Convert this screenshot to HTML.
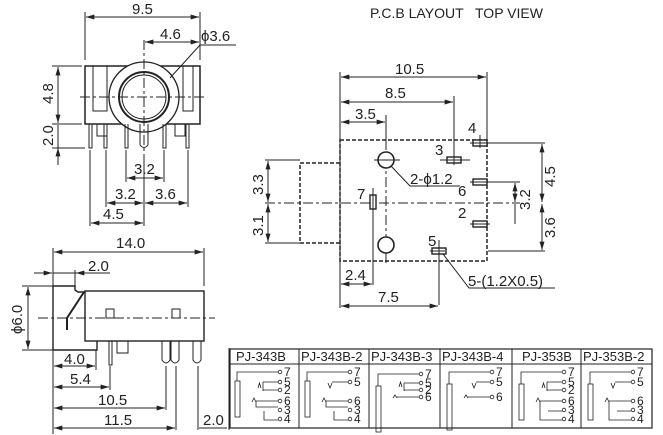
<!DOCTYPE html>
<html><head><meta charset="utf-8"><style>
html,body{margin:0;padding:0;background:#fff}
svg{display:block}
text{font-family:"Liberation Sans",sans-serif;fill:#222}
</style></head><body>
<svg width="663" height="435" viewBox="0 0 663 435" xmlns="http://www.w3.org/2000/svg">
<defs>
<marker id="a" viewBox="0 0 10 6" refX="10" refY="3" markerWidth="10" markerHeight="5" orient="auto-start-reverse" markerUnits="userSpaceOnUse"><path d="M0,0L10,3L0,6z" fill="#222"/></marker>
</defs>
<g stroke="#222" stroke-width="1" fill="none">
<rect x="85" y="66" width="115" height="58" stroke-width="1.5"/>
<rect x="93" y="66" width="14" height="45"/>
<rect x="183" y="66" width="10" height="45"/>
<circle cx="144" cy="97" r="35" stroke-width="1.3" fill="#fff"/>
<circle cx="144" cy="97" r="25" stroke-width="2"/>
<circle cx="144" cy="97" r="22"/>
<line x1="80" y1="97" x2="207" y2="97" stroke-dasharray="10,3,3,3"/>
<line x1="144" y1="40" x2="144" y2="160" stroke-dasharray="10,3,3,3"/>
<path d="M89 124V148h3V124M104 124V148h3V124M125 124V148h3V124M163 124V148h3V124M186 124V148h3V124"/>
<rect x="97" y="124" width="10" height="12"/><rect x="175" y="124" width="10" height="12"/>
<path d="M140 124V145q4 5 8 0V124"/>
<line x1="85" y1="60" x2="85" y2="12"/><line x1="200" y1="60" x2="200" y2="12"/>
<line x1="86" y1="17" x2="199" y2="17" marker-start="url(#a)" marker-end="url(#a)"/>
<line x1="145" y1="42" x2="199" y2="42" marker-start="url(#a)" marker-end="url(#a)"/>
<line x1="170" y1="78" x2="200" y2="45"/><line x1="200" y1="45" x2="236" y2="45"/>
<line x1="52" y1="66" x2="82" y2="66"/><line x1="52" y1="124" x2="82" y2="124"/><line x1="52" y1="148" x2="85" y2="148"/>
<line x1="58" y1="67" x2="58" y2="123" marker-start="url(#a)" marker-end="url(#a)"/>
<line x1="58" y1="125" x2="58" y2="165"/>
<line x1="58" y1="148" x2="58" y2="165" marker-start="url(#a)"/>
<line x1="90" y1="150" x2="90" y2="226"/><line x1="106" y1="150" x2="106" y2="207"/>
<line x1="126" y1="150" x2="126" y2="182"/><line x1="144" y1="160" x2="144" y2="226"/>
<line x1="164" y1="150" x2="164" y2="182"/><line x1="188" y1="150" x2="188" y2="207"/>
<line x1="127" y1="178" x2="163" y2="178" marker-start="url(#a)" marker-end="url(#a)"/>
<line x1="107" y1="203" x2="143" y2="203" marker-start="url(#a)" marker-end="url(#a)"/>
<line x1="145" y1="203" x2="187" y2="203" marker-start="url(#a)" marker-end="url(#a)"/>
<line x1="91" y1="223" x2="143" y2="223" marker-start="url(#a)" marker-end="url(#a)"/>
<g stroke-dasharray="4,2" stroke-width="1.5">
<rect x="340" y="140" width="147" height="121"/>
<path d="M340 163H300V243H340"/>
</g>
<line x1="265" y1="203" x2="520" y2="203" stroke-dasharray="10,3,3,3"/>
<line x1="386" y1="120" x2="386" y2="265" stroke-dasharray="10,3,3,3"/>
<circle cx="386" cy="160" r="8" stroke-width="1.6" fill="#fff"/>
<circle cx="386" cy="245" r="8" stroke-width="1.6" fill="#fff"/>
<line x1="374" y1="160" x2="400" y2="160"/>
<g fill="#fff" stroke-width="1.4">
<rect x="473" y="140" width="14" height="6"/>
<rect x="447" y="157" width="14" height="6"/>
<rect x="473" y="179" width="14" height="6"/>
<rect x="473" y="221" width="14" height="6"/>
<rect x="432" y="248" width="14" height="6"/>
<rect x="370" y="195" width="6" height="14"/>
</g>
<line x1="470" y1="143" x2="545" y2="143"/><line x1="440" y1="160" x2="470" y2="160"/>
<line x1="470" y1="182" x2="520" y2="182"/><line x1="470" y1="224" x2="490" y2="224"/>
<line x1="488" y1="251" x2="545" y2="251"/>
<line x1="480" y1="135" x2="480" y2="148"/><line x1="454" y1="140" x2="454" y2="165"/>
<line x1="373" y1="188" x2="373" y2="215"/><line x1="439" y1="240" x2="439" y2="305"/>
<line x1="340" y1="72" x2="340" y2="308"/><line x1="487" y1="72" x2="487" y2="140"/>
<line x1="454" y1="96" x2="454" y2="157"/><line x1="386" y1="115" x2="386" y2="150"/>
<line x1="341" y1="77" x2="486" y2="77" marker-start="url(#a)" marker-end="url(#a)"/>
<line x1="341" y1="102" x2="453" y2="102" marker-start="url(#a)" marker-end="url(#a)"/>
<line x1="341" y1="122" x2="385" y2="122" marker-start="url(#a)" marker-end="url(#a)"/>
<line x1="341" y1="284" x2="372" y2="284" marker-start="url(#a)" marker-end="url(#a)"/>
<line x1="373" y1="215" x2="373" y2="285"/>
<line x1="341" y1="306" x2="438" y2="306" marker-start="url(#a)" marker-end="url(#a)"/>
<line x1="265" y1="160" x2="300" y2="160"/><line x1="265" y1="243" x2="300" y2="243"/>
<line x1="268" y1="161" x2="268" y2="202" marker-start="url(#a)" marker-end="url(#a)"/>
<line x1="268" y1="204" x2="268" y2="242" marker-start="url(#a)" marker-end="url(#a)"/>
<line x1="542" y1="144" x2="542" y2="202" marker-start="url(#a)" marker-end="url(#a)"/>
<line x1="542" y1="204" x2="542" y2="250" marker-start="url(#a)" marker-end="url(#a)"/>
<line x1="515" y1="183" x2="515" y2="202" marker-start="url(#a)" marker-end="url(#a)"/>
<line x1="515" y1="204" x2="515" y2="224"/>
<path d="M391 166L410 186H460"/>
<path d="M443 254L469 288H555"/>
<line x1="430" y1="251" x2="445" y2="251"/>
<path d="M53 286H75V290L78 292H85M53 286V350H97V341" stroke-width="1.4"/>
<rect x="85" y="291" width="119" height="50" stroke-width="1.4"/>
<path d="M84 292L67 318V330" stroke-width="2"/>
<rect x="106" y="309" width="8" height="9"/><rect x="172" y="309" width="8" height="9"/>
<line x1="38" y1="318" x2="215" y2="318" stroke-dasharray="10,3,3,3"/>
<path d="M109 341V365h3V341"/><rect x="117" y="341" width="11" height="12"/>
<path d="M162 341V360q4 6 8 0V341M171 341V360q4 6 8 0V341M193 341V360q4 6 8 0V341"/>
<line x1="53" y1="248" x2="53" y2="434"/><line x1="204" y1="248" x2="204" y2="286"/>
<line x1="54" y1="252" x2="203" y2="252" marker-start="url(#a)" marker-end="url(#a)"/>
<line x1="34" y1="273" x2="52" y2="273" marker-end="url(#a)"/>
<line x1="76" y1="273" x2="110" y2="273" marker-start="url(#a)"/>
<line x1="53" y1="273" x2="76" y2="273"/>
<line x1="75" y1="270" x2="75" y2="286"/>
<line x1="22" y1="286" x2="53" y2="286"/><line x1="22" y1="350" x2="53" y2="350"/>
<line x1="28" y1="287" x2="28" y2="349" marker-start="url(#a)" marker-end="url(#a)"/>
<line x1="96" y1="350" x2="96" y2="370"/>
<line x1="54" y1="366" x2="95" y2="366" marker-start="url(#a)" marker-end="url(#a)"/>
<line x1="110" y1="366" x2="110" y2="390"/>
<line x1="54" y1="387" x2="109" y2="387" marker-start="url(#a)" marker-end="url(#a)"/>
<line x1="166" y1="366" x2="166" y2="410"/>
<line x1="54" y1="408" x2="165" y2="408" marker-start="url(#a)" marker-end="url(#a)"/>
<line x1="176" y1="366" x2="176" y2="430"/><line x1="198" y1="366" x2="198" y2="430"/>
<line x1="54" y1="428" x2="175" y2="428" marker-start="url(#a)" marker-end="url(#a)"/>
<line x1="199" y1="428" x2="227" y2="428"/>
<line x1="229" y1="348" x2="229" y2="430"/>
<rect x="230" y="349" width="422" height="79" stroke-width="1.2"/>
<line x1="230" y1="364" x2="652" y2="364"/>
<path d="M299 349V428M369 349V428M440 349V428M512 349V428M581 349V428"/>
</g>
<g stroke="#222" stroke-width="0.8" fill="none">
<g transform="translate(228,362)">
<rect x="7" y="19" width="5" height="36"/><path d="M9 19V10H50"/><circle cx="52" cy="10" r="1.8"/>
<path d="M30 26L31.5 21L33 26"/><path d="M35 29V20M35 20H50M35 28H50"/><circle cx="52" cy="20" r="1.8"/><circle cx="52" cy="28" r="1.8"/>
<path d="M24 40L26 36L28 40"/><path d="M28 39H50M28 39V45H50M36 49V58H50"/><circle cx="52" cy="39" r="1.8"/><circle cx="52" cy="48" r="1.8"/><circle cx="52" cy="57" r="1.8"/>
</g>
<g transform="translate(298,362)">
<rect x="7" y="19" width="5" height="36"/><path d="M9 19V10H50"/><circle cx="52" cy="10" r="1.8"/>
<path d="M30 21L32 26L34 21M34 20H50"/><circle cx="52" cy="20" r="1.8"/>
<path d="M24 40L26 36L28 40"/><path d="M28 39H50M28 39V45H50M36 49V58H50"/><circle cx="52" cy="39" r="1.8"/><circle cx="52" cy="48" r="1.8"/><circle cx="52" cy="57" r="1.8"/>
</g>
<g transform="translate(369,362)">
<rect x="7" y="24" width="5" height="46"/><path d="M9 24V12H50"/><circle cx="52" cy="12" r="1.8"/>
<path d="M30 25L31.5 20L33 25"/><path d="M35 29V21M35 21H50M35 28H50"/><circle cx="52" cy="21" r="1.8"/><circle cx="52" cy="28" r="1.8"/>
<path d="M24 36L26 33L28 36M28 35H50"/><circle cx="52" cy="35" r="1.8"/>
</g>
<g transform="translate(440,362)">
<rect x="7" y="22" width="5" height="46"/><path d="M9 22V10H50"/><circle cx="52" cy="10" r="1.8"/>
<path d="M32 21L34 26L36 21M36 20H50"/><circle cx="52" cy="20" r="1.8"/>
<path d="M24 36L26 33L28 36M28 35H50"/><circle cx="52" cy="35" r="1.8"/>
</g>
<g transform="translate(512,362)">
<rect x="7" y="22" width="5" height="36"/><path d="M9 22V10H50"/><circle cx="52" cy="10" r="1.8"/>
<path d="M30 26L31.5 21L33 26"/><path d="M35 29V20M35 20H50M35 28H50"/><circle cx="52" cy="20" r="1.8"/><circle cx="52" cy="28" r="1.8"/>
<path d="M24 40L26 36L28 40"/><path d="M28 39H50M28 39V58H50M36 49H50"/><circle cx="52" cy="39" r="1.8"/><circle cx="52" cy="48" r="1.8"/><circle cx="52" cy="57" r="1.8"/>
</g>
<g transform="translate(581,362)">
<rect x="7" y="22" width="5" height="36"/><path d="M9 22V10H50"/><circle cx="52" cy="10" r="1.8"/>
<path d="M30 21L32 26L34 21M34 20H50"/><circle cx="52" cy="20" r="1.8"/>
<path d="M24 40L26 36L28 40"/><path d="M28 39H50M28 39V58H50M36 49H50"/><circle cx="52" cy="39" r="1.8"/><circle cx="52" cy="48" r="1.8"/><circle cx="52" cy="57" r="1.8"/>
</g>
</g>
<g font-size="12" stroke="none">
<g transform="translate(228,362)"><text x="56" y="14">7</text><text x="56" y="24">5</text><text x="56" y="32">2</text><text x="56" y="43">6</text><text x="56" y="52">3</text><text x="56" y="61">4</text></g>
<g transform="translate(298,362)"><text x="56" y="14">7</text><text x="56" y="24">5</text><text x="56" y="43">6</text><text x="56" y="52">3</text><text x="56" y="61">4</text></g>
<g transform="translate(369,362)"><text x="56" y="16">7</text><text x="56" y="25">5</text><text x="56" y="32">2</text><text x="56" y="39">6</text></g>
<g transform="translate(440,362)"><text x="56" y="14">7</text><text x="56" y="24">5</text><text x="56" y="39">6</text></g>
<g transform="translate(512,362)"><text x="56" y="14">7</text><text x="56" y="24">5</text><text x="56" y="32">2</text><text x="56" y="43">6</text><text x="56" y="52">3</text><text x="56" y="61">4</text></g>
<g transform="translate(581,362)"><text x="56" y="14">7</text><text x="56" y="24">5</text><text x="56" y="43">6</text><text x="56" y="52">3</text><text x="56" y="61">4</text></g>
</g>
<g font-size="13">
<text x="236" y="361">PJ-343B</text><text x="301" y="361">PJ-343B-2</text><text x="371" y="361">PJ-343B-3</text><text x="442" y="361">PJ-343B-4</text><text x="522" y="361">PJ-353B</text><text x="583" y="361">PJ-353B-2</text>
</g>
<g font-size="15">
<text x="370" y="18" font-size="14">P.C.B LAYOUT</text><text x="475" y="18" font-size="14">TOP VIEW</text>
<text x="132" y="14">9.5</text><text x="160" y="39">4.6</text><text x="201" y="41">ϕ3.6</text>
<text x="134" y="174">3.2</text><text x="115" y="199">3.2</text><text x="155" y="199">3.6</text><text x="103" y="219">4.5</text>
<text transform="translate(53,104) rotate(-90)">4.8</text><text transform="translate(53,146) rotate(-90)">2.0</text>
<text x="395" y="74">10.5</text><text x="385" y="98">8.5</text><text x="355" y="119">3.5</text>
<text x="468" y="133">4</text><text x="435" y="155">3</text><text x="410" y="184">2-ϕ1.2</text><text x="458" y="196">6</text>
<text x="357" y="199">7</text><text x="458" y="218">2</text><text x="428" y="246">5</text>
<text x="468" y="286">5-(1.2X0.5)</text><text x="345" y="280">2.4</text><text x="378" y="302">7.5</text>
<text transform="translate(263,195) rotate(-90)">3.3</text><text transform="translate(263,236) rotate(-90)">3.1</text>
<text transform="translate(555,187) rotate(-90)">4.5</text><text transform="translate(530,210) rotate(-90)">3.2</text><text transform="translate(555,238) rotate(-90)">3.6</text>
<text x="116" y="248">14.0</text><text x="88" y="271">2.0</text>
<text transform="translate(22,334) rotate(-90)">ϕ6.0</text>
<text x="64" y="364">4.0</text><text x="70" y="384">5.4</text><text x="98" y="405">10.5</text><text x="104" y="425">11.5</text><text x="203" y="425">2.0</text>
</g>
</svg>
</body></html>
